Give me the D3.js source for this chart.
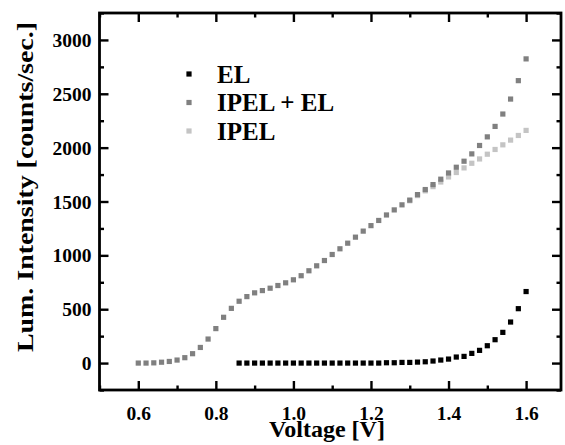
<!DOCTYPE html>
<html>
<head>
<meta charset="utf-8">
<script src="https://cdn.jsdelivr.net/npm/d3@7"></script>
<style>
  html, body { margin: 0; padding: 0; background: #fff; }
  svg text { font-family: "Liberation Serif", "DejaVu Serif", serif !important; font-weight: bold; fill: #000; }
</style>
</head>
<body>
<svg id="chart" width="565" height="445"></svg>
<script>
// ---- data ----
const voltageAll = [0.60,0.62,0.64,0.66,0.68,0.70,0.72,0.74,0.76,0.78,0.80,0.82,0.84,0.86,0.88,0.90,0.92,0.94,0.96,0.98,
  1.00,1.02,1.04,1.06,1.08,1.10,1.12,1.14,1.16,1.18,1.20,1.22,1.24,1.26,1.28,1.30,1.32,1.34,1.36,1.38,
  1.40,1.42,1.44,1.46,1.48,1.50,1.52,1.54,1.56,1.58,1.60];
const ipelPlusEl = [0,0,2,8,15,28,50,87,145,223,320,425,508,574,617,652,673,695,720,745,
  773,811,857,903,952,1008,1061,1113,1169,1225,1276,1324,1375,1422,1469,1513,1564,1611,1657,1707,
  1765,1818,1874,1942,2020,2100,2197,2312,2451,2622,2824];
const voltageEL = [0.86,0.88,0.90,0.92,0.94,0.96,0.98,1.00,1.02,1.04,1.06,1.08,1.10,1.12,1.14,1.16,1.18,1.20,1.22,
  1.24,1.26,1.28,1.30,1.32,1.34,1.36,1.38,1.40,1.42,1.44,1.46,1.48,1.50,1.52,1.54,1.56,1.58,1.60];
const elValues = [0,0,0,0,0,0,0,0,0,0,0,0,0,0,0,0,0,0,0,
  3,3,6,6,9,12,19,28,37,56,62,90,118,161,217,285,381,505,664];
const voltageIPEL = [1.30,1.32,1.34,1.36,1.38,1.40,1.42,1.44,1.46,1.48,1.50,1.52,1.54,1.56,1.58,1.60];
const ipelValues = [1507,1555,1599,1638,1681,1728,1769,1812,1855,1895,1939,1983,2026,2070,2113,2160];

const xTicks = [0.6,0.8,1.0,1.2,1.4,1.6];
const xMinorTicks = [0.5,0.7,0.9,1.1,1.3,1.5];
const yTicks = [0,500,1000,1500,2000,2500,3000];
const yMinorTicks = [-250,250,750,1250,1750,2250,2750,3250];
const legendLabels = ["EL","IPEL + EL","IPEL"];
const seriesColors = ["#000000","#808080","#c4c4c4"];

// ---- layout ----
const L = 99.5, R = 561, T = 13, B = 390;
const FONT = "'Liberation Serif', 'DejaVu Serif', serif";
const svg = d3.select("#chart");
const x = d3.scaleLinear().domain([0.5, 1.69]).range([L, R]);
const y = d3.scaleLinear().domain([-250, 3250]).range([B, T]);

const MS = 5.2; // marker size
function drawSeries(xs, ys, color) {
  svg.append("g").selectAll("rect").data(xs.map((v,i)=>[v, ys[i]])).join("rect")
    .attr("x", d => x(d[0]) - MS/2).attr("y", d => y(d[1]) - MS/2)
    .attr("width", MS).attr("height", MS).attr("fill", color);
}
drawSeries(voltageIPEL, ipelValues, seriesColors[2]);
drawSeries(voltageAll, ipelPlusEl, seriesColors[1]);
drawSeries(voltageEL, elValues, seriesColors[0]);

// ---- axes ----
const fmtX = d3.format(".1f");
function styleAxis(g) {
  g.attr("font-family", FONT).attr("font-size", 19.5).attr("font-weight", "bold");
  g.select(".domain").remove();
  g.selectAll(".tick line").attr("stroke", "#000").attr("stroke-width", 2.4);
  g.selectAll(".tick text").attr("font-family", FONT).attr("font-size", 19.5).attr("font-weight", "bold");
}
// bottom
svg.append("g").attr("transform", `translate(0,${B})`)
  .call(d3.axisBottom(x).tickValues(xTicks).tickSize(-9).tickFormat(fmtX))
  .call(styleAxis)
  .call(g => g.selectAll(".tick text").attr("y", 30).attr("dy", null));
svg.append("g").attr("transform", `translate(0,${B})`)
  .call(d3.axisBottom(x).tickValues(xMinorTicks).tickSize(-4.5).tickFormat(""))
  .call(styleAxis);
// top
svg.append("g").attr("transform", `translate(0,${T})`)
  .call(d3.axisTop(x).tickValues(xTicks).tickSize(-9).tickFormat(""))
  .call(styleAxis);
svg.append("g").attr("transform", `translate(0,${T})`)
  .call(d3.axisTop(x).tickValues(xMinorTicks).tickSize(-4.5).tickFormat(""))
  .call(styleAxis);
// left
svg.append("g").attr("transform", `translate(${L},0)`)
  .call(d3.axisLeft(y).tickValues(yTicks).tickSize(-9).tickFormat(d3.format("d")))
  .call(styleAxis)
  .call(g => g.selectAll(".tick text").attr("x", -8).attr("dy", "0.34em"));
svg.append("g").attr("transform", `translate(${L},0)`)
  .call(d3.axisLeft(y).tickValues(yMinorTicks).tickSize(-4.5).tickFormat(""))
  .call(styleAxis);
// right
svg.append("g").attr("transform", `translate(${R},0)`)
  .call(d3.axisRight(y).tickValues(yTicks).tickSize(-9).tickFormat(""))
  .call(styleAxis);
svg.append("g").attr("transform", `translate(${R},0)`)
  .call(d3.axisRight(y).tickValues(yMinorTicks).tickSize(-4.5).tickFormat(""))
  .call(styleAxis);

// frame
svg.append("rect").attr("x", L).attr("y", T).attr("width", R - L).attr("height", B - T)
  .attr("fill", "none").attr("stroke", "#000").attr("stroke-width", 2.8);

// titles
svg.append("text").attr("x", 327).attr("y", 437).attr("text-anchor", "middle")
  .attr("font-family", FONT).attr("font-size", 24).text("Voltage [V]");
svg.append("text").attr("transform", "translate(33,187) rotate(-90)")
  .attr("font-family", FONT).attr("text-anchor", "middle").attr("font-size", 24)
  .attr("textLength", 330).attr("lengthAdjust", "spacingAndGlyphs")
  .text("Lum. Intensity [counts/sec.]");

// legend
const legY = [74, 102.5, 131];
legendLabels.forEach((lab, i) => {
  svg.append("rect").attr("x", 189 - MS/2).attr("y", legY[i] - MS/2).attr("width", MS).attr("height", MS)
    .attr("fill", seriesColors[i]);
  svg.append("text").attr("x", 217).attr("y", legY[i]).attr("dy", "0.35em")
    .attr("font-family", FONT).attr("font-size", 25).text(lab);
});
</script>
</body>
</html>
